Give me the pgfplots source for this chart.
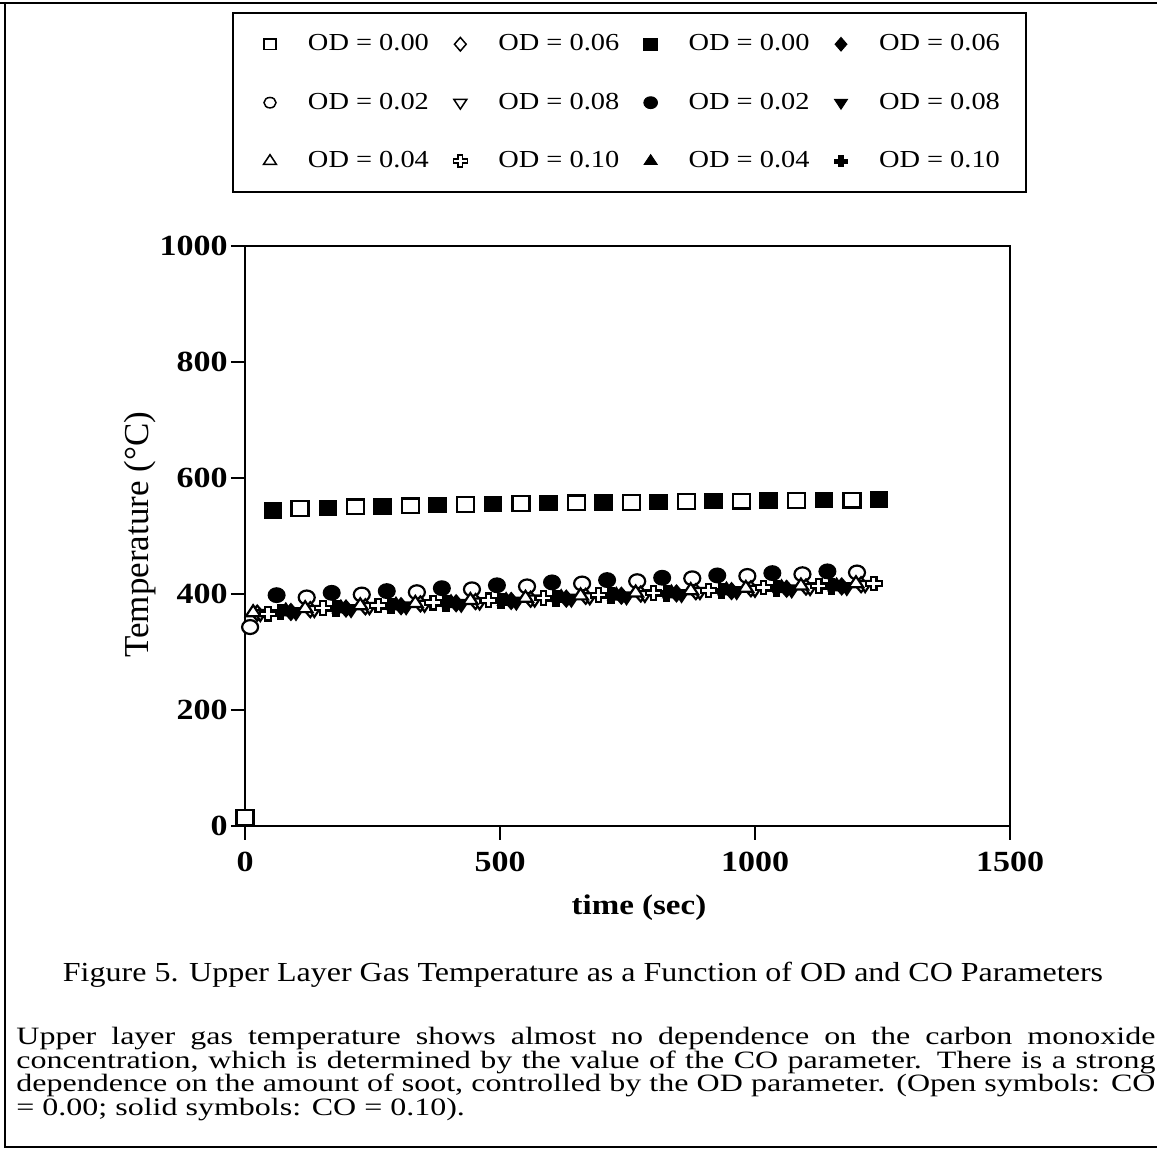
\documentclass[border=0pt]{standalone}
\usepackage{fontspec}
\setmainfont{Liberation Serif}
\usepackage{graphicx}
\usepackage{pgfplots}
\pgfplotsset{compat=1.18}

% text in this figure is set slightly compressed in height
\newcommand{\sq}[1]{\scalebox{1}[0.86]{#1}}
\newcommand{\sqp}[1]{\scalebox{1}[0.78]{#1}}

% outlined / solid Greek cross used for OD = 0.10
\pgfdeclareplotmark{gcross}{%
  \pgfpathmoveto{\pgfqpoint{-0.34\pgfplotmarksize}{\pgfplotmarksize}}%
  \pgfpathlineto{\pgfqpoint{0.34\pgfplotmarksize}{\pgfplotmarksize}}%
  \pgfpathlineto{\pgfqpoint{0.34\pgfplotmarksize}{0.34\pgfplotmarksize}}%
  \pgfpathlineto{\pgfqpoint{\pgfplotmarksize}{0.34\pgfplotmarksize}}%
  \pgfpathlineto{\pgfqpoint{\pgfplotmarksize}{-0.34\pgfplotmarksize}}%
  \pgfpathlineto{\pgfqpoint{0.34\pgfplotmarksize}{-0.34\pgfplotmarksize}}%
  \pgfpathlineto{\pgfqpoint{0.34\pgfplotmarksize}{-\pgfplotmarksize}}%
  \pgfpathlineto{\pgfqpoint{-0.34\pgfplotmarksize}{-\pgfplotmarksize}}%
  \pgfpathlineto{\pgfqpoint{-0.34\pgfplotmarksize}{-0.34\pgfplotmarksize}}%
  \pgfpathlineto{\pgfqpoint{-\pgfplotmarksize}{-0.34\pgfplotmarksize}}%
  \pgfpathlineto{\pgfqpoint{-\pgfplotmarksize}{0.34\pgfplotmarksize}}%
  \pgfpathlineto{\pgfqpoint{-0.34\pgfplotmarksize}{0.34\pgfplotmarksize}}%
  \pgfpathclose
  \pgfusepathqfillstroke}

\pgfplotsset{
  po/.style={only marks, black, forget plot,
    mark options={fill=white, draw=black, line width=1.1pt, yscale=0.87}},
  pf/.style={only marks, black, forget plot,
    mark options={fill=black, draw=black, line width=0.8pt, yscale=0.87}},
  pov/.style={only marks, black, forget plot,
    mark options={fill=white, draw=black, line width=1.1pt, yscale=0.87, rotate=180}},
  pfv/.style={only marks, black, forget plot,
    mark options={fill=black, draw=black, line width=0.8pt, yscale=0.87, rotate=180}},
  lo/.style={black, mark options={fill=white, draw=black, line width=0.75pt, yscale=0.87}},
  lf/.style={black, mark options={fill=black, draw=black, line width=0.5pt, yscale=0.87}},
  lov/.style={black, mark options={fill=white, draw=black, line width=0.75pt, yscale=0.87, rotate=180}},
  lfv/.style={black, mark options={fill=black, draw=black, line width=0.5pt, yscale=0.87, rotate=180}},
}

\begin{document}
\begin{tikzpicture}
\useasboundingbox (0pt,0pt) rectangle (578.5pt,575pt);

% page frame
\draw[line width=0.8pt] (0pt,573.5pt) -- (578.5pt,573.5pt);
\draw[line width=0.8pt] (2.5pt,573.5pt) -- (2.5pt,1.6pt) -- (578.5pt,1.6pt);

\begin{axis}[
  at={(122.5pt,162pt)}, anchor=south west,
  scale only axis, width=382.5pt, height=290pt,
  xmin=0, xmax=1500, ymin=0, ymax=1000,
  xtick={0,500,1000,1500},
  xticklabels={\sq{0},\sq{500},\sq{1000},\sq{1500}},
  ytick={0,200,400,600,800,1000},
  yticklabels={\sq{0},\sq{200},\sq{400},\sq{600},\sq{800},\sq{1000}},
  tick align=outside, tick pos=left, major tick length=7pt,
  axis line style={line width=1.2pt},
  every tick/.style={black, line width=1pt},
  ticklabel style={font=\bfseries\fontsize{17}{17}\selectfont},
  xticklabel style={yshift=-2.5pt},
  yticklabel style={inner sep=1.5pt},
  xlabel={\sq{time (sec)}},
  xlabel style={font=\bfseries\fontsize{16.5}{17}\selectfont,
    at={(axis description cs:0.515,-0.152)}, anchor=base},
  ylabel={Temperature (°C)},
  ylabel style={font=\fontsize{17.5}{18}\selectfont,
    at={(axis description cs:-0.137,0.502)}, anchor=center},
  clip=false,
  legend columns=3, transpose legend, legend cell align=left,
  legend image code/.code={\path (-5pt,0pt) (5pt,0pt); \draw[#1] plot coordinates {(0pt,0pt)};},
  legend style={at={(axis description cs:-0.017,1.4034)}, anchor=north west,
    draw=black, line width=1pt, inner xsep=13pt, inner ysep=10.8pt,
    font=\fontsize{14.2}{14}\selectfont, row sep=19.6pt, nodes={inner sep=0pt},
    /tikz/every odd column/.style={column sep=13.5pt},
    /tikz/every even column/.style={column sep=10.2pt}},
]

% legend: open symbols CO = 0.00, solid symbols CO = 0.10
\addlegendimage{lo, mark=square*, mark size=3pt}
\addlegendentry{\sq{OD = 0.00}}
\addlegendimage{lo, mark=*, mark size=3pt}
\addlegendentry{\sq{OD = 0.02}}
\addlegendimage{lo, mark=triangle*, mark size=3.7pt}
\addlegendentry{\sq{OD = 0.04}}
\addlegendimage{lo, mark=diamond*, mark size=3.9pt}
\addlegendentry{\sq{OD = 0.06}}
\addlegendimage{lov, mark=triangle*, mark size=3.7pt}
\addlegendentry{\sq{OD = 0.08}}
\addlegendimage{lo, mark=gcross, mark size=3.5pt}
\addlegendentry{\sq{OD = 0.10}}
\addlegendimage{lf, mark=square*, mark size=3.4pt}
\addlegendentry{\sq{OD = 0.00}}
\addlegendimage{lf, mark=*, mark size=3.4pt}
\addlegendentry{\sq{OD = 0.02}}
\addlegendimage{lf, mark=triangle*, mark size=3.7pt}
\addlegendentry{\sq{OD = 0.04}}
\addlegendimage{lf, mark=diamond*, mark size=3.9pt}
\addlegendentry{\sq{OD = 0.06}}
\addlegendimage{lfv, mark=triangle*, mark size=3.7pt}
\addlegendentry{\sq{OD = 0.08}}
\addlegendimage{lf, mark=gcross, mark size=3.3pt}
\addlegendentry{\sq{OD = 0.10}}

% CO = 0.10 (solid symbols)
\addplot[pf, mark=gcross, mark size=4.3pt] coordinates {
 (70,369) (178,375) (286,379) (394,384) (502,388) (610,392)
 (718,397) (826,401) (934,405) (1042,409) (1150,413)};
\addplot[pf, mark=triangle*, mark size=4.7pt] coordinates {
 (80,370) (188,375) (296,380) (404,384) (512,388) (620,393)
 (728,397) (836,401) (944,406) (1052,410) (1160,413)};
\addplot[pf, mark=diamond*, mark size=4.7pt] coordinates {
 (90,369) (198,375) (306,379) (414,384) (522,388) (630,392)
 (738,397) (846,401) (954,405) (1062,409) (1170,413)};
\addplot[pfv, mark=triangle*, mark size=4.7pt] coordinates {
 (100,369) (208,374) (316,379) (424,383) (532,387) (640,392)
 (748,396) (856,400) (964,405) (1072,408) (1180,412)};
\addplot[pf, mark=*, mark size=4.1pt] coordinates {
 (62,398) (170,402) (278,405) (386,410) (494,415) (602,420)
 (710,424) (818,428) (926,432) (1034,436) (1142,439)};
\addplot[pf, mark=square*, mark size=4.25pt] coordinates {
 (55,544) (163,548) (270,551) (378,553) (486,555) (595,557)
 (703,558) (811,559) (919,560) (1027,561) (1135,562) (1243,563)};

% CO = 0.00 (open symbols)
\addplot[po, mark=*, mark size=4pt] coordinates {
 (10,343) (121,394) (229,399) (337,403) (445,408) (553,413)
 (661,418) (769,422) (877,427) (985,431) (1093,434) (1200,437)};
\addplot[po, mark=diamond*, mark size=4.3pt] coordinates {
 (24,367) (128,373) (236,378) (344,383) (452,387) (560,391)
 (668,396) (776,400) (884,404) (992,409) (1100,412) (1208,416)};
\addplot[pov, mark=triangle*, mark size=4.2pt] coordinates {
 (30,366) (136,373) (244,378) (352,382) (460,386) (568,391)
 (676,395) (784,399) (892,404) (1000,408) (1108,411) (1216,416)};
\addplot[po, mark=triangle*, mark size=4.2pt] coordinates {
 (16,368) (118,375) (226,380) (334,384) (442,389) (550,393)
 (658,397) (766,402) (874,406) (982,410) (1090,414) (1198,418)};
\addplot[po, mark=gcross, mark size=3.9pt] coordinates {
 (45,366) (153,376) (261,380) (369,385) (477,389) (585,393)
 (693,398) (801,402) (909,406) (1017,411) (1125,414) (1233,418)};
\addplot[po, mark=square*, mark size=4.25pt] coordinates {
 (0,15) (108,547) (216,550) (325,552) (433,554) (541,556)
 (650,557) (758,558) (866,559) (974,560) (1082,561) (1190,562)};
\end{axis}

% caption and description
\node[anchor=base, inner sep=0pt, font=\fontsize{16}{16}\selectfont] at (291.5pt,84pt)
  {\sq{Figure 5. Upper Layer Gas Temperature as a Function of OD and CO Parameters}};
\begin{scope}[every node/.style={anchor=base west, inner sep=0pt, font=\fontsize{16}{16}\selectfont}]
\node at (8pt,52.5pt) {\sqp{\makebox[569.5pt][s]{Upper layer gas temperature shows almost no dependence on the carbon monoxide}}};
\node at (8pt,40.8pt) {\sqp{\makebox[569.5pt][s]{concentration, which is determined by the value of the CO parameter. There is a strong}}};
\node at (8pt,29.1pt) {\sqp{\makebox[569.5pt][s]{dependence on the amount of soot, controlled by the OD parameter. (Open symbols: CO}}};
\node at (8pt,17.4pt) {\sqp{= 0.00; solid symbols: CO = 0.10).}};
\end{scope}
\end{tikzpicture}
\end{document}
